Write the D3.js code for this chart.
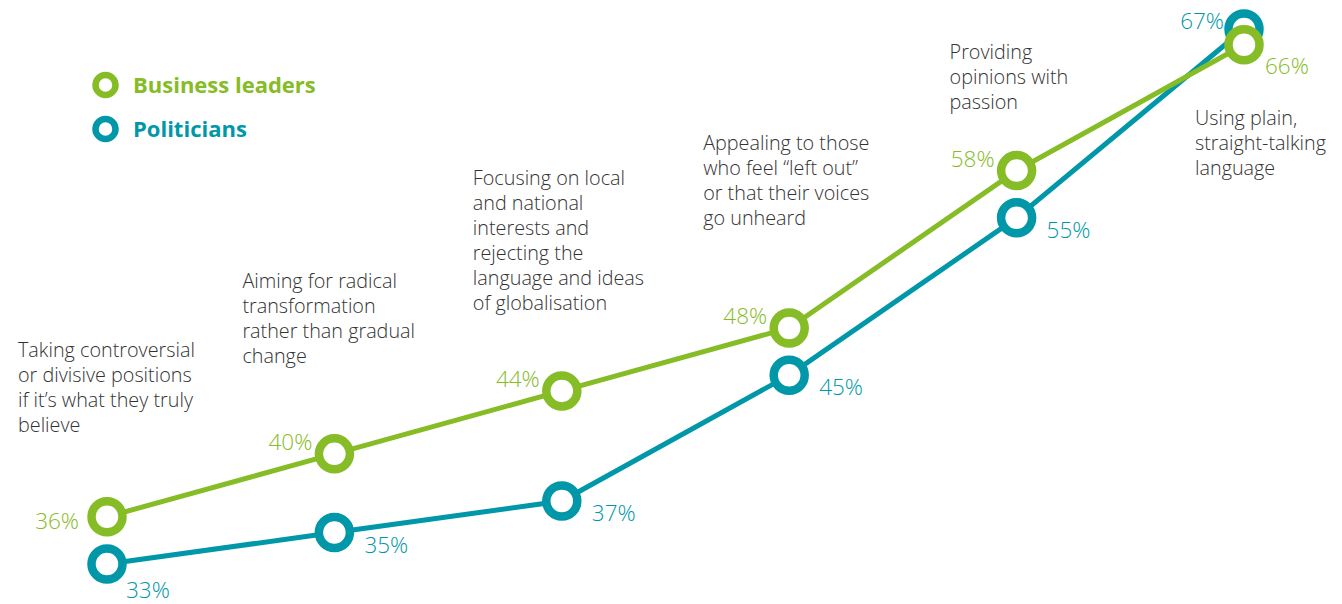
<!DOCTYPE html>
<html>
<head>
<meta charset="utf-8">
<script src="https://cdn.jsdelivr.net/npm/d3@7"></script>
<style>
  html, body { margin: 0; padding: 0; background: #fff; }
  svg { display: block; font-family: "Open Sans", sans-serif; }
</style>
</head>
<body>
<svg id="chart" width="1342" height="604"></svg>
<script>
const categories = [
  "Taking controversial|or divisive positions|if it\u2019s what they truly|believe",
  "Aiming for radical|transformation|rather than gradual|change",
  "Focusing on local|and national|interests and|rejecting the|language and ideas|of globalisation",
  "Appealing to those|who feel \u201cleft out\u201d|or that their voices|go unheard",
  "Providing|opinions with|passion",
  "Using plain,|straight-talking|language"
];
const businessLeaders = [36, 40, 44, 48, 58, 66];
const politicians = [33, 35, 37, 45, 55, 67];
const seriesNames = ["Business leaders", "Politicians"];
const colors = { "Business leaders": "#86BC25", "Politicians": "#0097A9" };

const svg = d3.select("#chart");
const x = d3.scalePoint().domain(d3.range(categories.length)).range([107, 1244]);
const y = d3.scaleLinear().domain([33, 67]).range([564, 29]);

const series = [
  { name: "Politicians", values: politicians },
  { name: "Business leaders", values: businessLeaders }
];

const line = d3.line().x((d, i) => x(i)).y(d => y(d));

// Category labels (positioned relative to the category's x)
const catPos = [
  { dx: -89, top: 357 }, { dx: -92, top: 288 }, { dx: -89, top: 185 },
  { dx: -86, top: 150 }, { dx: -67, top: 59 }, { dx: -49, top: 125 }
];
categories.forEach((c, i) => {
  const t = svg.append("text")
    .attr("x", x(i) + catPos[i].dx)
    .attr("y", catPos[i].top)
    .attr("fill", "#333333")
    .attr("font-size", 19.8)
    .attr("font-weight", 300);
  c.split("|").forEach((ln, j) => {
    t.append("tspan").attr("x", x(i) + catPos[i].dx).attr("dy", j === 0 ? 0 : 25).text(ln);
  });
});

// Lines
series.forEach(s => {
  svg.append("path")
    .datum(s.values)
    .attr("d", line)
    .attr("fill", "none")
    .attr("stroke", colors[s.name])
    .attr("stroke-width", 5);
});

// Circles
series.forEach(s => {
  svg.append("g").selectAll("circle")
    .data(s.values)
    .join("circle")
    .attr("cx", (d, i) => x(i))
    .attr("cy", d => y(d))
    .attr("r", 15.5)
    .attr("fill", "#fff")
    .attr("stroke", colors[s.name])
    .attr("stroke-width", 8.5);
});

// Value labels
function labelPos(name, i, n) {
  if (name === "Business leaders") {
    if (i === 0) return { dx: -28, dy: 12, anchor: "end" };
    if (i === n - 1) return { dx: 21, dy: 29, anchor: "start" };
    return { dx: -22, dy: -4, anchor: "end" };
  } else {
    if (i === 0) return { dx: 19, dy: 34, anchor: "start" };
    if (i === n - 1) return { dx: -20, dy: 0, anchor: "end" };
    return { dx: 30, dy: 20, anchor: "start" };
  }
}
series.forEach(s => {
  svg.append("g").selectAll("text")
    .data(s.values)
    .join("text")
    .attr("x", (d, i) => x(i) + labelPos(s.name, i, s.values.length).dx)
    .attr("y", (d, i) => y(d) + labelPos(s.name, i, s.values.length).dy)
    .attr("text-anchor", (d, i) => labelPos(s.name, i, s.values.length).anchor)
    .attr("fill", colors[s.name])
    .attr("font-size", 22.5)
    .attr("font-weight", 300)
    .text(d => d + "%");
});

// Legend
const legend = svg.append("g");
seriesNames.forEach((name, i) => {
  const cy = 85 + i * 44;
  legend.append("circle")
    .attr("cx", 105.5).attr("cy", cy).attr("r", 10)
    .attr("fill", "#fff").attr("stroke", colors[name]).attr("stroke-width", 6.5);
  legend.append("text")
    .attr("x", 133).attr("y", cy + 7.5)
    .attr("fill", colors[name])
    .attr("font-size", 22)
    .attr("font-weight", 700)
    .text(name);
});
</script>
</body>
</html>
